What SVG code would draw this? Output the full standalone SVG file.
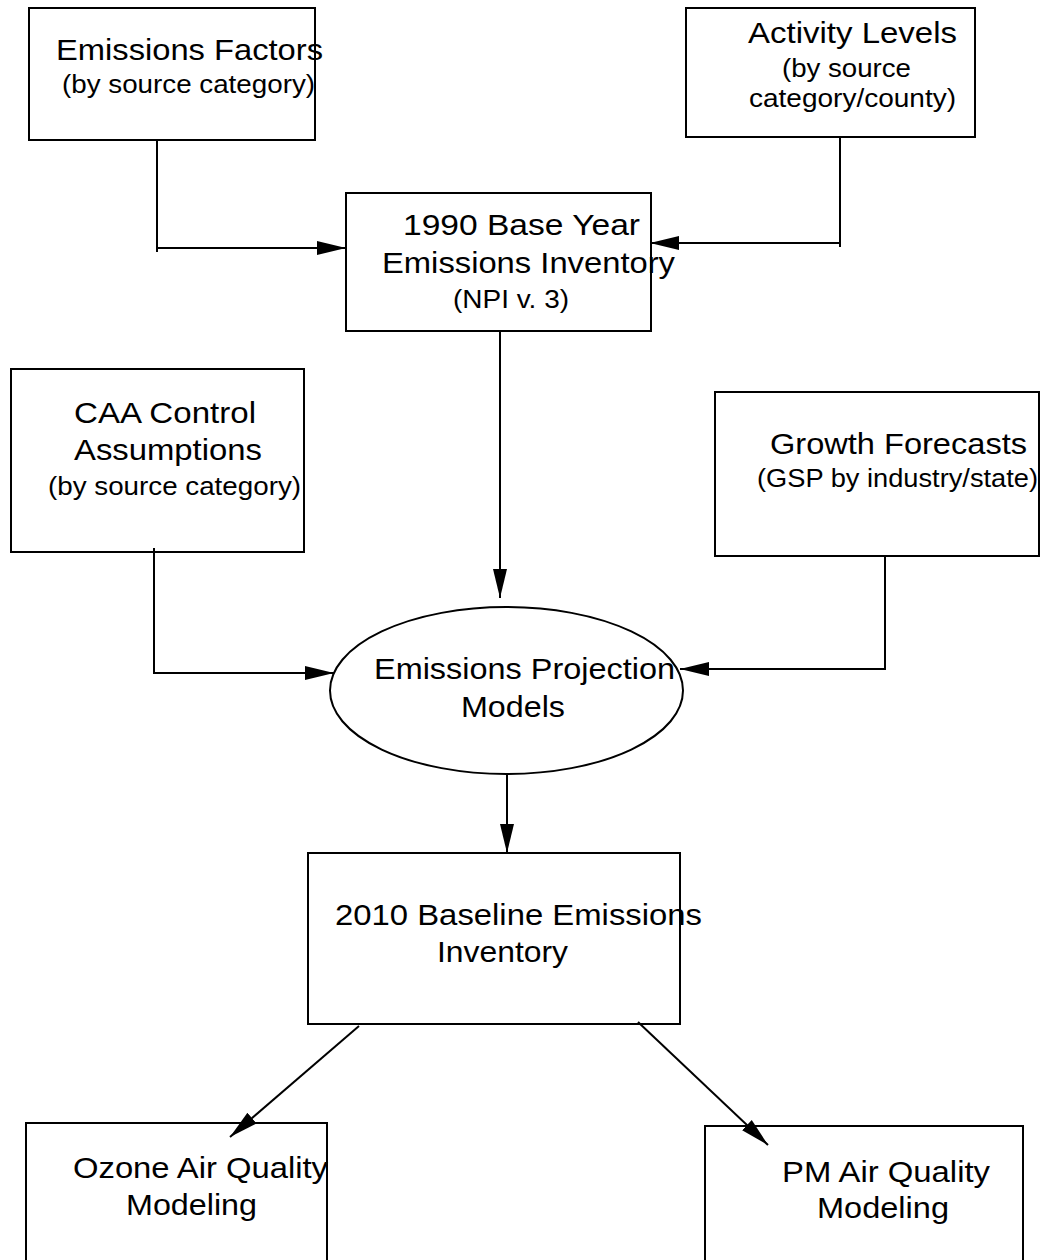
<svg xmlns="http://www.w3.org/2000/svg" width="1047" height="1260" viewBox="0 0 1047 1260">
<style>
.box{fill:#fff;stroke:#000;stroke-width:2}
.t{font-family:"Liberation Sans",Arial,sans-serif;font-size:30px;fill:#000}
.s{font-family:"Liberation Sans",Arial,sans-serif;font-size:26px;fill:#000}
.c{fill:none;stroke:#000;stroke-width:2}
</style>
<defs>
<marker id="arr" markerUnits="userSpaceOnUse" markerWidth="30" markerHeight="16" viewBox="0 0 30 16" refX="29" refY="8" orient="auto">
<path d="M0,1 L29,8 L0,15 Z" fill="#000"/>
</marker>
</defs>
<rect width="1047" height="1260" fill="#fff"/>
<g id="connectors">
<path class="c" d="M157,140 V252"/>
<path class="c" d="M157,248 H346" marker-end="url(#arr)"/>
<path class="c" d="M840,137 V247"/>
<path class="c" d="M840,243 H650" marker-end="url(#arr)"/>
<path class="c" d="M500,331 V598" marker-end="url(#arr)"/>
<path class="c" d="M154,548 V673 H334" marker-end="url(#arr)"/>
<path class="c" d="M885,556 V669 H680" marker-end="url(#arr)"/>
<path class="c" d="M507,774 V853" marker-end="url(#arr)"/>
<path class="c" d="M359,1026 L230,1137" marker-end="url(#arr)"/>
<path class="c" d="M638,1022 L768,1145" marker-end="url(#arr)"/>
</g>
<g id="emissions-factors">
<rect class="box" x="29" y="8" width="286" height="132" style="fill:none"/>
<text class="t" x="56" y="60" textLength="267" lengthAdjust="spacingAndGlyphs">Emissions Factors</text>
<text class="s" x="62" y="93" textLength="253" lengthAdjust="spacingAndGlyphs">(by source category)</text>
</g>
<g id="activity-levels">
<rect class="box" x="686" y="8" width="289" height="129" style="fill:none"/>
<text class="t" x="748" y="43" textLength="209" lengthAdjust="spacingAndGlyphs">Activity Levels</text>
<text class="s" x="782" y="77" textLength="129" lengthAdjust="spacingAndGlyphs">(by source</text>
<text class="s" x="749" y="107" textLength="207" lengthAdjust="spacingAndGlyphs">category/county)</text>
</g>
<g id="base-year-inventory">
<rect class="box" x="346" y="193" width="305" height="138" style="fill:none"/>
<text class="t" x="403" y="235" textLength="237" lengthAdjust="spacingAndGlyphs">1990 Base Year</text>
<text class="t" x="382" y="273" textLength="293" lengthAdjust="spacingAndGlyphs">Emissions Inventory</text>
<text class="s" x="453" y="308" textLength="116" lengthAdjust="spacingAndGlyphs">(NPI v. 3)</text>
</g>
<g id="caa-control">
<rect class="box" x="11" y="369" width="293" height="183" style="fill:none"/>
<text class="t" x="74" y="423" textLength="182" lengthAdjust="spacingAndGlyphs">CAA Control</text>
<text class="t" x="74" y="460" textLength="188" lengthAdjust="spacingAndGlyphs">Assumptions</text>
<text class="s" x="48" y="495" textLength="253" lengthAdjust="spacingAndGlyphs">(by source category)</text>
</g>
<g id="growth-forecasts">
<rect class="box" x="715" y="392" width="324" height="164" style="fill:none"/>
<text class="t" x="770" y="454" textLength="257" lengthAdjust="spacingAndGlyphs">Growth Forecasts</text>
<text class="s" x="757" y="487" textLength="281" lengthAdjust="spacingAndGlyphs">(GSP by industry/state)</text>
</g>
<g id="projection-models">
<ellipse class="box" cx="506.5" cy="690.5" rx="176.5" ry="83.5" style="fill:none"/>
<text class="t" x="374" y="679" textLength="301" lengthAdjust="spacingAndGlyphs">Emissions Projection</text>
<text class="t" x="461" y="717" textLength="104" lengthAdjust="spacingAndGlyphs">Models</text>
</g>
<g id="baseline-2010">
<rect class="box" x="308" y="853" width="372" height="171" style="fill:none"/>
<text class="t" x="335" y="925" textLength="367" lengthAdjust="spacingAndGlyphs">2010 Baseline Emissions</text>
<text class="t" x="437" y="962" textLength="131" lengthAdjust="spacingAndGlyphs">Inventory</text>
</g>
<g id="ozone-modeling">
<rect class="box" x="26" y="1123" width="301" height="160" style="fill:none"/>
<text class="t" x="73" y="1178" textLength="255" lengthAdjust="spacingAndGlyphs">Ozone Air Quality</text>
<text class="t" x="126" y="1215" textLength="131" lengthAdjust="spacingAndGlyphs">Modeling</text>
</g>
<g id="pm-modeling">
<rect class="box" x="705" y="1126" width="318" height="160" style="fill:none"/>
<text class="t" x="782" y="1182" textLength="208" lengthAdjust="spacingAndGlyphs">PM Air Quality</text>
<text class="t" x="817" y="1218" textLength="132" lengthAdjust="spacingAndGlyphs">Modeling</text>
</g>
</svg>
